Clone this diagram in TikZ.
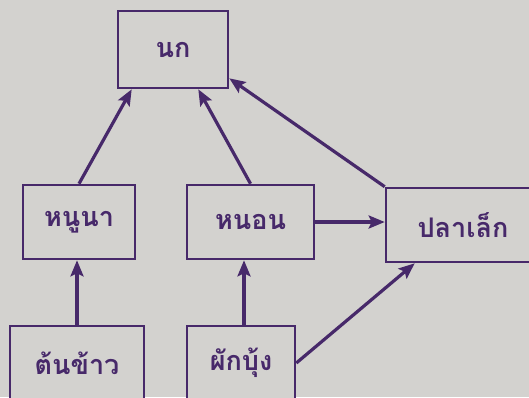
\documentclass[tikz,border=0pt]{standalone}
\usepackage{fontspec}
\newfontfamily\thaifont[Script=Thai]{Loma}
\usetikzlibrary{arrows.meta, positioning}
\definecolor{paper}{HTML}{D3D2CF}
\definecolor{ink}{HTML}{47296A}

\begin{document}
\begin{tikzpicture}[x=1pt, y=-1pt, >={Stealth[length=16pt, width=13pt, inset=3pt]},
    food/.style={draw=ink, line width=2.6pt, fill=paper, text=ink, font=\thaifont\bfseries\fontsize{27}{30}\selectfont, minimum height=74pt},
    eat/.style={->, draw=ink, line width=3.2pt}]
\useasboundingbox[fill=paper] (0,0) rectangle (529,397);
\draw
    node [food, minimum width=110pt, minimum height=77pt] (nok) at (173,49.5) {นก}
    node [food, minimum width=112pt] (nuna) at (79,222) {หนูนา}
    node [food, minimum width=127pt] (non) at (250.5,222) {หนอน}
    node [food, minimum width=154pt] (pla) at (463,225) {ปลาเล็ก}
    node [food, minimum width=134pt] (tonkhao) at (77,363) {ต้นข้าว}
    node [food, minimum width=108pt] (phak) at (241,363) {ผักบุ้ง}
;
\draw[eat] (nuna.north) -- ([xshift=15pt]nok.south west);
\draw[eat] (non.north) -- ([xshift=-31pt]nok.south east);
\draw[eat] (pla.north west) -- ([yshift=11pt]nok.south east);
\draw[eat] (non.east) -- (non.east -| pla.west);
\draw[eat] (tonkhao.north) -- (tonkhao.north |- nuna.south);
\draw[eat] ([xshift=3pt]phak.north) -- ([xshift=3pt]phak.north |- non.south);
\draw[eat] (phak.east) -- ([xshift=30pt]pla.south west);
\end{tikzpicture}
\end{document}
